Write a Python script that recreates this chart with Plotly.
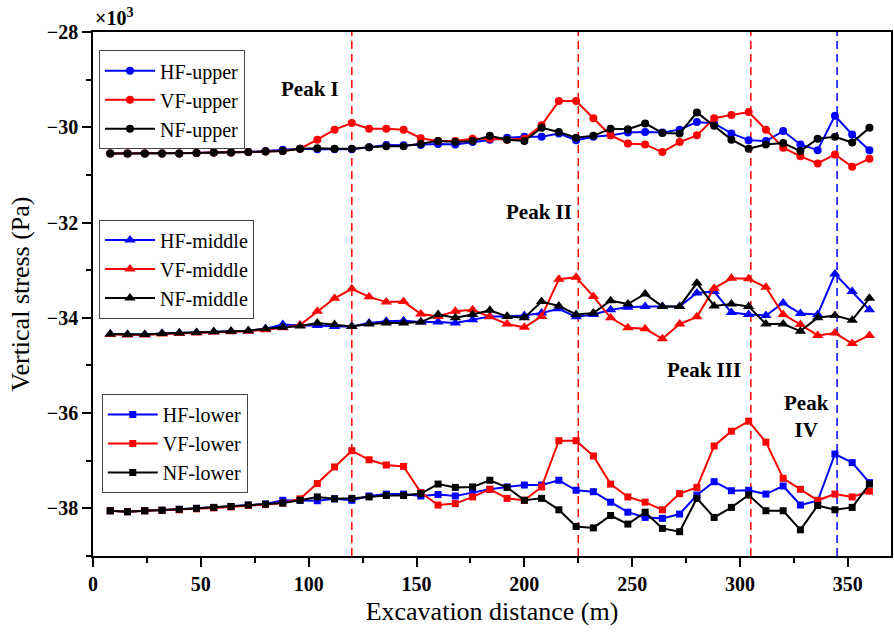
import plotly.graph_objects as go

distance = [8, 16, 24, 32, 40, 48, 56, 64, 72, 80, 88, 96, 104, 112, 120, 128, 136, 144, 152, 160,
            168, 176, 184, 192, 200, 208, 216, 224, 232, 240, 248, 256, 264, 272, 280, 288, 296, 304,
            312, 320, 328, 336, 344, 352, 360]

# values in x10^3 Pa
hf_upper = [-30.55, -30.55, -30.55, -30.55, -30.55, -30.54, -30.53, -30.53, -30.52, -30.50, -30.47, -30.45,
            -30.46, -30.46, -30.46, -30.42, -30.37, -30.38, -30.37, -30.35, -30.36, -30.31, -30.26, -30.22,
            -30.20, -30.20, -30.13, -30.27, -30.20, -30.17, -30.11, -30.10, -30.11, -30.05, -29.89, -29.92,
            -30.13, -30.27, -30.29, -30.08, -30.36, -30.48, -29.76, -30.15, -30.48]
vf_upper = [-30.55, -30.55, -30.55, -30.55, -30.55, -30.54, -30.53, -30.53, -30.52, -30.51, -30.50, -30.45,
            -30.26, -30.05, -29.91, -30.03, -30.03, -30.05, -30.23, -30.29, -30.29, -30.24, -30.24, -30.26,
            -30.24, -29.96, -29.45, -29.45, -29.81, -30.17, -30.34, -30.36, -30.52, -30.31, -30.17, -29.81,
            -29.74, -29.68, -30.05, -30.43, -30.61, -30.76, -30.57, -30.83, -30.66]
nf_upper = [-30.55, -30.55, -30.55, -30.55, -30.55, -30.54, -30.53, -30.53, -30.52, -30.51, -30.50, -30.45,
            -30.44, -30.45, -30.45, -30.42, -30.40, -30.40, -30.35, -30.29, -30.31, -30.29, -30.18, -30.26,
            -30.29, -30.01, -30.10, -30.22, -30.18, -30.03, -30.04, -29.92, -30.12, -30.13, -29.69, -29.97,
            -30.26, -30.45, -30.36, -30.33, -30.50, -30.24, -30.20, -30.32, -30.01]

hf_middle = [-34.34, -34.35, -34.35, -34.33, -34.32, -34.31, -34.29, -34.28, -34.27, -34.23, -34.14, -34.16,
             -34.16, -34.18, -34.18, -34.11, -34.07, -34.06, -34.09, -34.09, -34.11, -34.04, -33.97, -33.97,
             -33.95, -33.90, -33.81, -33.98, -33.93, -33.83, -33.78, -33.76, -33.76, -33.76, -33.48, -33.45,
             -33.89, -33.93, -33.95, -33.69, -33.91, -33.93, -33.08, -33.45, -33.83]
vf_middle = [-34.35, -34.36, -34.36, -34.34, -34.33, -34.32, -34.30, -34.29, -34.28, -34.25, -34.21, -34.15,
             -33.86, -33.59, -33.39, -33.56, -33.67, -33.66, -33.92, -33.97, -33.86, -33.83, -33.98, -34.13,
             -34.20, -33.97, -33.19, -33.15, -33.55, -34.00, -34.21, -34.23, -34.44, -34.13, -33.98, -33.38,
             -33.17, -33.18, -33.36, -33.93, -34.14, -34.37, -34.32, -34.54, -34.37]
nf_middle = [-34.34, -34.35, -34.35, -34.33, -34.32, -34.31, -34.29, -34.28, -34.27, -34.23, -34.20, -34.17,
             -34.11, -34.14, -34.18, -34.13, -34.11, -34.11, -34.09, -33.93, -34.00, -33.93, -33.84, -33.97,
             -34.00, -33.66, -33.75, -33.93, -33.90, -33.64, -33.71, -33.50, -33.76, -33.76, -33.27, -33.75,
             -33.71, -33.76, -34.13, -34.13, -34.28, -34.00, -33.95, -34.05, -33.59]

hf_lower = [-38.05, -38.07, -38.05, -38.04, -38.02, -38.00, -37.98, -37.96, -37.93, -37.91, -37.83, -37.83,
            -37.84, -37.80, -37.83, -37.74, -37.70, -37.70, -37.74, -37.71, -37.74, -37.67, -37.60, -37.55,
            -37.51, -37.51, -37.41, -37.62, -37.65, -37.87, -38.08, -38.19, -38.21, -38.12, -37.72, -37.44,
            -37.63, -37.62, -37.70, -37.53, -37.93, -37.84, -36.86, -37.04, -37.46]
vf_lower = [-38.05, -38.07, -38.05, -38.04, -38.03, -38.01, -37.99, -37.97, -37.94, -37.92, -37.89, -37.80,
            -37.48, -37.13, -36.79, -36.98, -37.09, -37.12, -37.67, -37.93, -37.90, -37.76, -37.60, -37.79,
            -37.83, -37.55, -36.58, -36.58, -36.90, -37.49, -37.76, -37.87, -38.03, -37.69, -37.56, -36.69,
            -36.38, -36.17, -36.61, -37.37, -37.60, -37.83, -37.70, -37.76, -37.64]
nf_lower = [-38.05, -38.07, -38.05, -38.04, -38.02, -38.00, -37.98, -37.96, -37.93, -37.91, -37.89, -37.83,
            -37.76, -37.80, -37.79, -37.76, -37.73, -37.73, -37.69, -37.49, -37.56, -37.55, -37.41, -37.56,
            -37.83, -37.79, -38.03, -38.38, -38.41, -38.15, -38.33, -38.08, -38.42, -38.49, -37.79, -38.19,
            -37.98, -37.72, -38.05, -38.05, -38.45, -37.94, -38.03, -37.98, -37.49]

peak_x = [120, 225, 305, 345]
peak_colors = ["#FF0000", "#FF0000", "#FF0000", "#0000FF"]
peak_labels = ["<b>Peak I</b>", "<b>Peak II</b>", "<b>Peak III</b>", "<b>Peak<br>IV</b>"]
peak_label_x = [100.5, 207, 283.5, 331]
peak_label_y = [-29.19, -31.77, -35.09, -36.07]

FONT = "Liberation Serif"
BLUE, RED, BLACK = "#0000FF", "#FF0000", "#000000"

fig = go.Figure()

groups = [
    ("upper", "circle", 8, [hf_upper, vf_upper, nf_upper], "legend"),
    ("middle", "triangle-up", 10, [hf_middle, vf_middle, nf_middle], "legend2"),
    ("lower", "square", 7, [hf_lower, vf_lower, nf_lower], "legend3"),
]
for name, sym, msize, series, leg in groups:
    for prefix, col, vals in zip(["HF", "VF", "NF"], [BLUE, RED, BLACK], series):
        fig.add_trace(go.Scatter(
            x=distance, y=vals, mode="lines+markers", name=f"{prefix}-{name}",
            line=dict(color=col, width=2),
            marker=dict(symbol=sym, size=msize, color=col),
            legend=leg,
        ))

for px_, c in zip(peak_x, peak_colors):
    fig.add_shape(type="line", x0=px_, x1=px_, yref="paper", y0=0, y1=1,
                  line=dict(color=c, width=1.5, dash="8px,5px"), layer="below")

for t, ax, ay in zip(peak_labels, peak_label_x, peak_label_y):
    fig.add_annotation(x=ax, y=ay, text=t, showarrow=False,
                       font=dict(family=FONT, size=21, color="black"))

fig.add_annotation(xref="paper", yref="paper", x=0.0, y=1.0, yshift=15, xanchor="left",
                   yanchor="middle", text="<b>×10<sup>3</sup></b>", showarrow=False,
                   font=dict(family=FONT, size=20, color="black"))

leg_common = dict(xanchor="left", yanchor="top", bgcolor="white", bordercolor="#444444",
                  borderwidth=1, font=dict(family=FONT, size=20, color="black"),
                  itemwidth=50, tracegroupgap=0)

axis_common = dict(showline=True, linecolor="black", linewidth=1.5, showgrid=False, zeroline=False,
                   ticks="outside", ticklen=9, tickwidth=1.5, tickcolor="black",
                   tickfont=dict(family=FONT, size=20, color="black", weight="bold"))

fig.update_layout(
    width=894, height=634,
    margin=dict(l=93, r=1, t=32, b=78),
    paper_bgcolor="white", plot_bgcolor="white",
    font=dict(family=FONT, color="black"),
    legend=dict(x=0.0075, y=0.965, **leg_common),
    legend2=dict(x=0.0075, y=0.642, **leg_common),
    legend3=dict(x=0.011, y=0.309, **leg_common),
    xaxis=dict(range=[0, 370], tick0=0, dtick=50, mirror=True,
               minor=dict(dtick=25, ticks="outside", ticklen=5, tickwidth=1.5, tickcolor="black"),
               title=dict(text="Excavation distance (m)", font=dict(family=FONT, size=26), standoff=8),
               **axis_common),
    yaxis=dict(range=[-39, -28], tick0=-28, dtick=2, mirror=True,
               minor=dict(dtick=1, ticks="outside", ticklen=5, tickwidth=1.5, tickcolor="black"),
               title=dict(text="Vertical stress (Pa)", font=dict(family=FONT, size=26), standoff=10),
               **axis_common),
    xaxis2=dict(overlaying="x", side="top", range=[0, 370], tick0=0, dtick=50, showticklabels=False,
                ticks="inside", ticklen=9, tickwidth=1.5, tickcolor="black", showgrid=False,
                zeroline=False, showline=False,
                minor=dict(dtick=25, ticks="inside", ticklen=5, tickwidth=1.5, tickcolor="black")),
    yaxis2=dict(overlaying="y", side="right", range=[-39, -28], tick0=-28, dtick=2, showticklabels=False,
                ticks="inside", ticklen=9, tickwidth=1.5, tickcolor="black", showgrid=False,
                zeroline=False, showline=False,
                minor=dict(dtick=1, ticks="inside", ticklen=5, tickwidth=1.5, tickcolor="black")),
)

fig.write_html("out.html")
